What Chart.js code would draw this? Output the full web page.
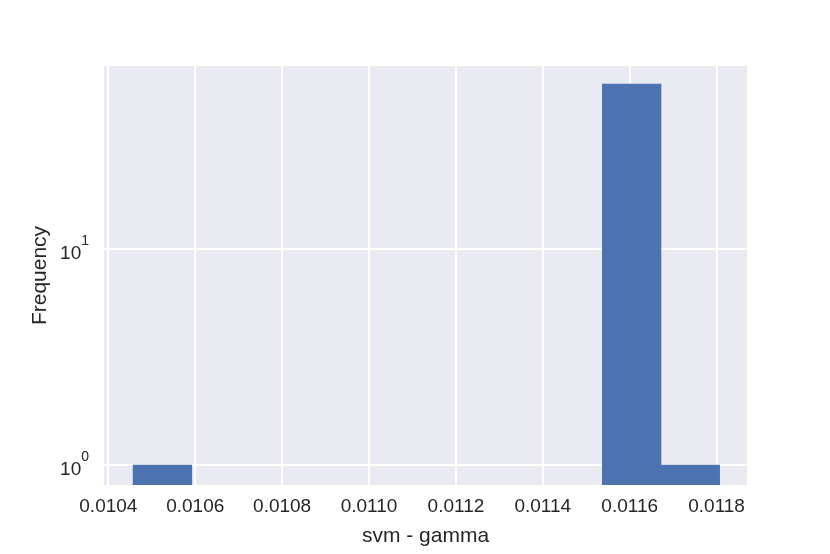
<!DOCTYPE html>
<html>
<head>
<meta charset="utf-8">
<script src="https://cdn.jsdelivr.net/npm/chart.js@4/dist/chart.umd.min.js"></script>
<style>
  html, body { margin: 0; padding: 0; background: #ffffff; }
  #wrap { width: 830px; height: 554px; }
</style>
</head>
<body>
<div id="wrap"><canvas id="hist"></canvas></div>
<script>
// histogram bins (left edges) and counts
let binLeft  = [0.010457, 0.010592, 0.010727, 0.010862, 0.010997, 0.011132, 0.011267, 0.011402, 0.011537, 0.011672];
let binWidth = 0.000135;
let counts   = [1, 0, 0, 0, 0, 0, 0, 0, 58, 1];

let xTicks = [0.0104, 0.0106, 0.0108, 0.0110, 0.0112, 0.0114, 0.0116, 0.0118];
let yTicks = [1, 10];
let yTickExp = ['0', '1'];

let xLabel = 'svm - gamma';
let yLabel = 'Frequency';

const textColor = '#262626';
const fontFamily = '"Liberation Sans", Arial, sans-serif';

// empty bins can't be drawn on a log axis, leave them out (null)
let points = [];
for (let i = 0; i < binLeft.length; i++) {
    points.push({x: binLeft[i] + binWidth / 2, y: counts[i] > 0 ? counts[i] : null});
}

// grey plot background like seaborn darkgrid
const areaBg = {
    id: 'areaBg',
    beforeDraw(chart) {
        const {ctx, chartArea: a} = chart;
        ctx.save();
        ctx.fillStyle = '#eaeaf2';
        ctx.fillRect(a.left, a.top, a.right - a.left, a.bottom - a.top);
        ctx.restore();
    }
};

// y tick labels drawn as 10 with a raised exponent
const powerLabels = {
    id: 'powerLabels',
    afterDraw(chart) {
        const ctx = chart.ctx;
        const y = chart.scales.y;
        const right = y.right - 15;
        ctx.save();
        ctx.fillStyle = textColor;
        ctx.textAlign = 'right';
        ctx.textBaseline = 'alphabetic';
        for (let i = 0; i < yTicks.length; i++) {
            const py = y.getPixelForValue(yTicks[i]);
            ctx.font = '14px ' + fontFamily;
            const supW = ctx.measureText(yTickExp[i]).width;
            ctx.fillText(yTickExp[i], right, py - 3.5);
            ctx.font = '19px ' + fontFamily;
            ctx.fillText('10', right - supW, py + 10);
        }
        ctx.restore();
    }
};

new Chart(document.getElementById('hist'), {
    type: 'bar',
    data: {
        datasets: [{
            label: yLabel,
            data: points,
            backgroundColor: '#4c72b0',
            borderWidth: 0,
            barPercentage: 1.0,
            categoryPercentage: 1.0
        }]
    },
    options: {
        responsive: true,
        maintainAspectRatio: false,
        animation: false,
        events: [],
        layout: { padding: {top: 66, right: 83, left: 0, bottom: 0} },
        plugins: {
            legend: { display: false },
            tooltip: { enabled: false }
        },
        scales: {
            x: {
                type: 'linear',
                min: 0.01039,
                max: 0.01187,
                offset: false,
                border: { display: false },
                grid: { color: '#ffffff', lineWidth: 2, drawTicks: false, offset: false },
                afterBuildTicks: (scale) => { scale.ticks = xTicks.map(v => ({value: v})); },
                afterFit: (scale) => { scale.height = 69; },
                ticks: {
                    color: textColor,
                    padding: 10,
                    maxRotation: 0,
                    font: { family: fontFamily, size: 19 },
                    callback: (v) => Number(v).toFixed(4)
                },
                title: {
                    display: true,
                    text: xLabel,
                    color: textColor,
                    padding: {top: 0, bottom: 5},
                    font: { family: fontFamily, size: 21 }
                }
            },
            y: {
                type: 'logarithmic',
                min: 0.808,
                max: 70.3,
                border: { display: false },
                grid: { color: '#ffffff', lineWidth: 2, drawTicks: false },
                afterBuildTicks: (scale) => { scale.ticks = yTicks.map(v => ({value: v})); },
                afterFit: (scale) => { scale.width = 104; },
                ticks: { display: false },
                title: {
                    display: true,
                    text: yLabel,
                    color: textColor,
                    padding: {top: 28, bottom: 0},
                    font: { family: fontFamily, size: 21 }
                }
            }
        }
    },
    plugins: [areaBg, powerLabels]
});
</script>
</body>
</html>
